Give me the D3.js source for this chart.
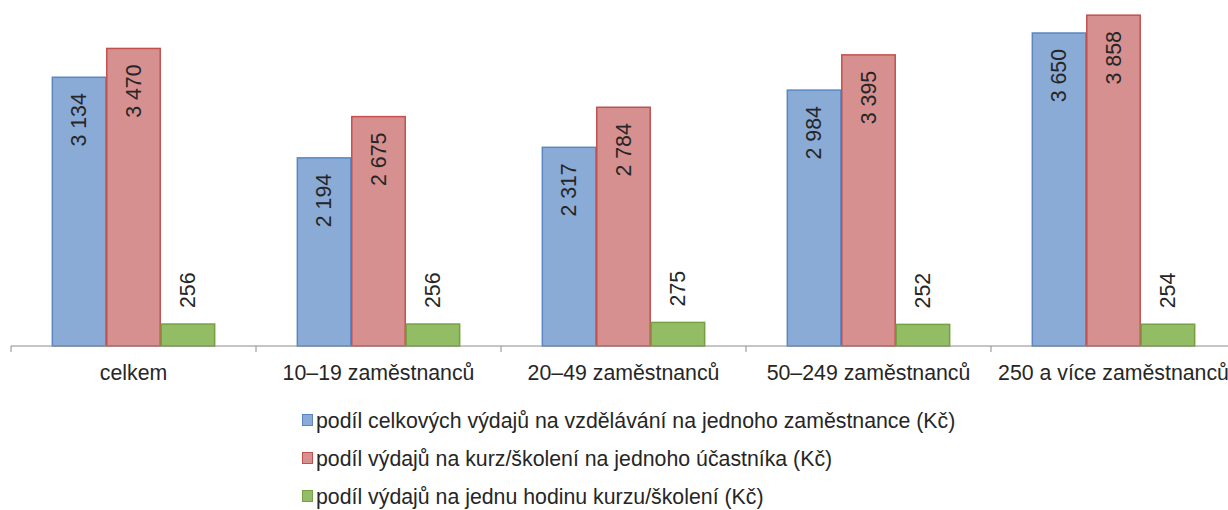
<!DOCTYPE html>
<html>
<head>
<meta charset="utf-8">
<script src="https://cdn.jsdelivr.net/npm/d3@7"></script>
<style>
  html, body { margin: 0; padding: 0; background: #fff; }
  svg { display: block; font-family: "Liberation Sans", Arial, sans-serif; }
</style>
</head>
<body>
<svg id="chart" width="1228" height="510"></svg>
<script>
'use strict';

const categories = ['celkem', '10–19 zaměstnanců', '20–49 zaměstnanců', '50–249 zaměstnanců', '250 a více zaměstnanců'];
const seriesNames = [
   'podíl celkových výdajů na vzdělávání na jednoho zaměstnance (Kč)',
   'podíl výdajů na kurz/školení na jednoho účastníka (Kč)',
   'podíl výdajů na jednu hodinu kurzu/školení (Kč)'
];
const perEmployee = [3134, 2194, 2317, 2984, 3650];
const perParticipant = [3470, 2675, 2784, 3395, 3858];
const perHour = [256, 256, 275, 252, 254];

const fills = ['#8aabd6', '#d69090', '#93bd65'];
const strokes = ['#5b86c2', '#c2504d', '#76a042'];

const svg = d3.select('#chart'),
   baseY = 346,
   left = 11,
   groupW = 245,
   fontSize = 21.3;

const seriesValues = [perEmployee, perParticipant, perHour];

const x0 = d3.scaleBand()
   .domain(categories)
   .range([left, left + groupW * categories.length])
   .padding(0);

const x1 = d3.scaleBand()
   .domain(d3.range(seriesValues.length))
   .range([groupW * 0.75 / 4.5, groupW - groupW * 0.75 / 4.5])
   .padding(0);

const y = d3.scaleLinear().domain([0, 4000]).range([baseY, 3]);

const fmt = v => d3.format(',')(v).replace(/,/g, ' ');

// bars
const groups = svg.append('g').selectAll('g')
   .data(categories)
   .join('g')
   .attr('transform', d => `translate(${x0(d)},0)`);

groups.each(function (cat, ci) {
   const g = d3.select(this);
   seriesValues.forEach(function (vals, si) {
      const v = vals[ci];
      const bx = x1(si), bw = x1.bandwidth();
      g.append('rect')
         .attr('x', bx + 0.5)
         .attr('y', y(v))
         .attr('width', bw - 1)
         .attr('height', baseY - y(v))
         .attr('fill', fills[si])
         .attr('stroke', strokes[si])
         .attr('stroke-width', 1.5);

      const inside = si < 2;
      const ly = inside ? y(v) + 16 : y(v) - 16;
      g.append('text')
         .attr('transform', `translate(${bx + bw / 2 + 7},${ly}) rotate(-90)`)
         .attr('text-anchor', inside ? 'end' : 'start')
         .attr('font-size', fontSize)
         .attr('fill', '#262626')
         .text(fmt(v));
   });
});

// axis
const axis = svg.append('g').attr('transform', `translate(0,${baseY})`);
axis.append('line')
   .attr('x1', left).attr('x2', 1228)
   .attr('stroke', '#8c8c8c').attr('stroke-width', 1);
axis.selectAll('line.tick')
   .data(categories)
   .join('line')
   .attr('class', 'tick')
   .attr('x1', d => x0(d)).attr('x2', d => x0(d))
   .attr('y1', 0).attr('y2', 6)
   .attr('stroke', '#8c8c8c');
axis.selectAll('text')
   .data(categories)
   .join('text')
   .attr('x', d => x0(d) + x0.bandwidth() / 2)
   .attr('y', 34)
   .attr('text-anchor', 'middle')
   .attr('font-size', fontSize)
   .attr('fill', '#262626')
   .text(d => d);

// legend
const legend = svg.append('g').attr('transform', 'translate(302,0)');
const rows = legend.selectAll('g')
   .data(seriesNames)
   .join('g')
   .attr('transform', (d, i) => `translate(0,${428 + i * 38})`);
rows.append('rect')
   .attr('x', 0.5).attr('y', -13.5)
   .attr('width', 10).attr('height', 11)
   .attr('fill', (d, i) => fills[i])
   .attr('stroke', (d, i) => strokes[i]);
rows.append('text')
   .attr('x', 14)
   .attr('font-size', fontSize)
   .attr('fill', '#262626')
   .text(d => d);
</script>
</body>
</html>
